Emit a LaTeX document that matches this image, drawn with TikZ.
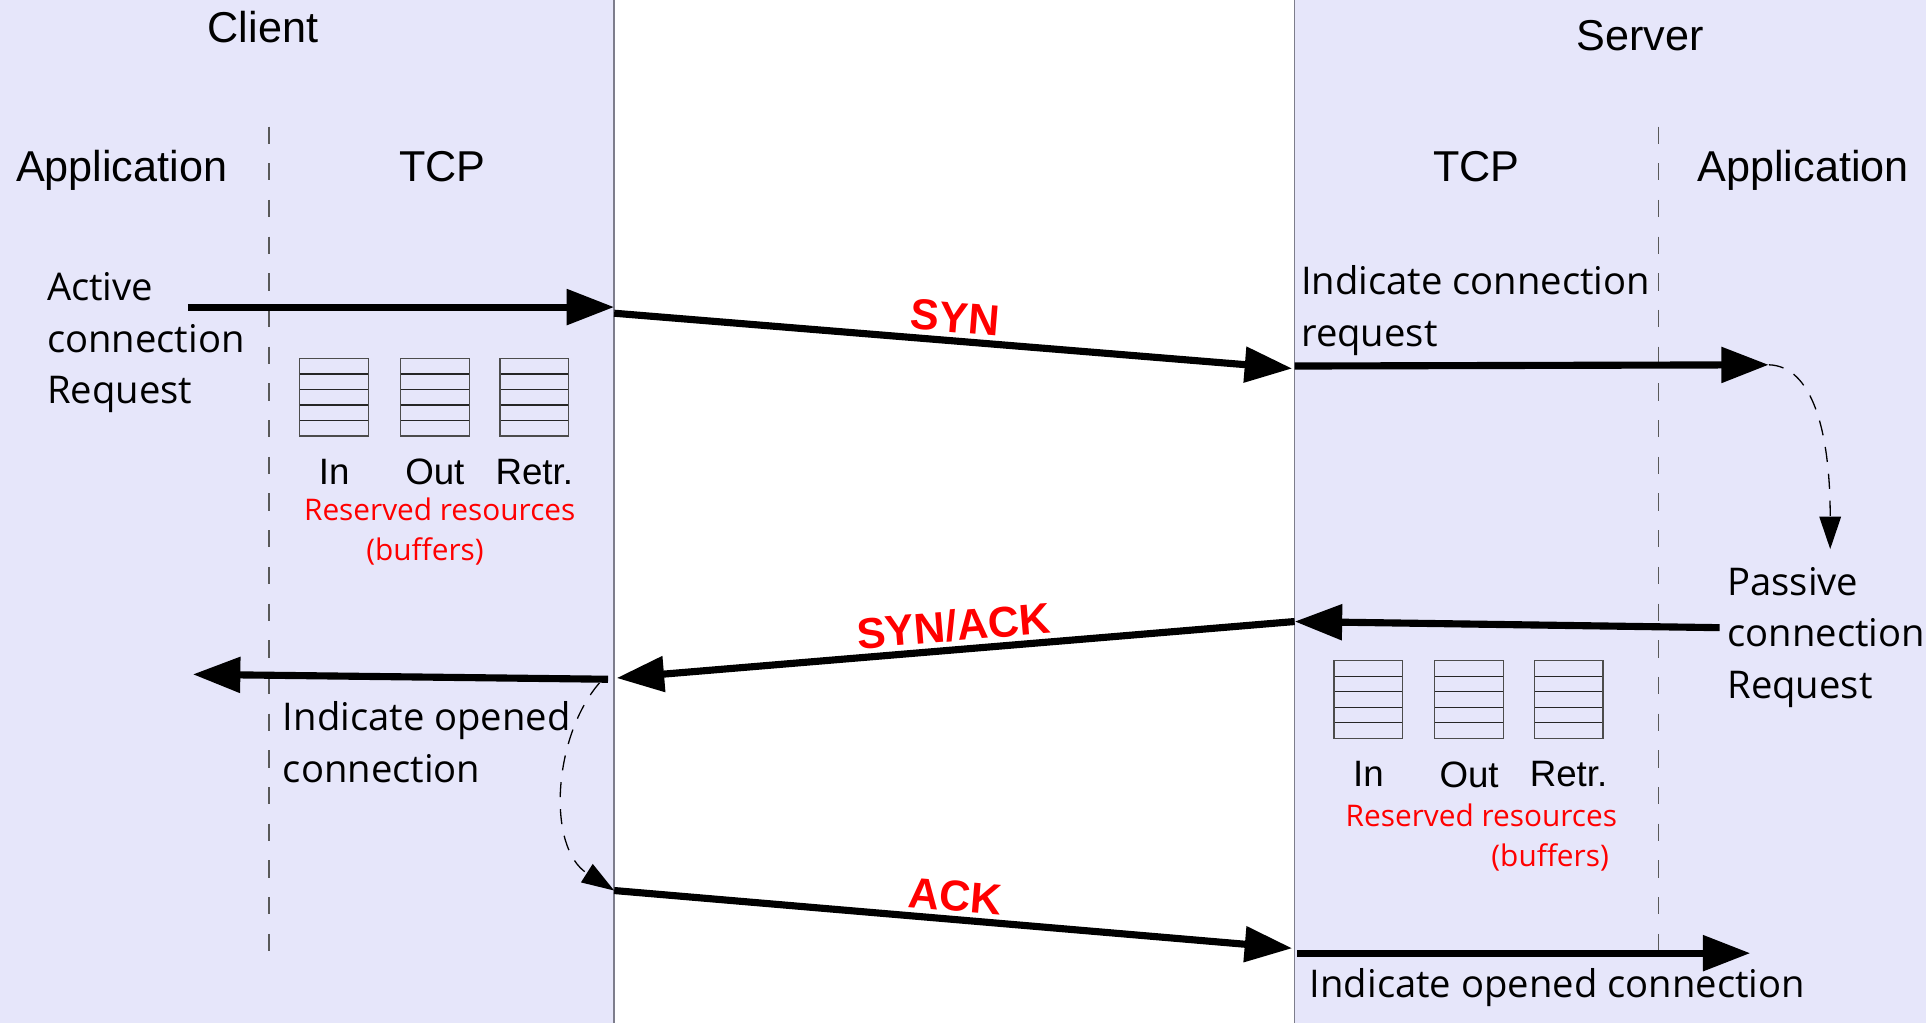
\documentclass[tikz,border=0pt]{standalone}
\usepackage{fontspec}
\setmainfont{Open Sans}
\setsansfont{Liberation Sans}
\usetikzlibrary{positioning,arrows.meta,calc}
\definecolor{panelfill}{RGB}{230,230,250}
\definecolor{panelline}{RGB}{125,125,140}

\begin{document}
\begin{tikzpicture}[
  x=0.2mm, y=-0.2mm,
  node distance=3.6mm,
  head/.style={font=\sffamily\fontsize{20}{24}\selectfont, inner sep=0pt, anchor=base},
  note/.style={font=\fontsize{17.7}{24}\selectfont, align=left, inner sep=0pt, anchor=west},
  res/.style={font=\fontsize{13.8}{19}\selectfont, text=red, inner sep=0pt},
  buf/.style={draw=black!70, line width=0.6pt, minimum width=11.2mm, minimum height=12.6mm, inner sep=0pt,
    path picture={\foreach \k in {1,...,4}
      \draw[black!85, line width=0.6pt]
        ($(path picture bounding box.north west)!\k/5!(path picture bounding box.south west)$) --
        ($(path picture bounding box.north east)!\k/5!(path picture bounding box.south east)$);}},
  buftag/.style={font=\sffamily\fontsize{17}{20}\selectfont, inner sep=0pt, below=of #1},
  msg/.style={-{Triangle[length=22pt,width=16pt]}, line width=3.3pt},
  pkt/.style={font=\sffamily\bfseries\fontsize{20}{24}\selectfont, text=red, sloped, above, inner sep=2pt},
  hint/.style={-{Triangle[length=15pt,width=10pt]}, dash pattern=on 7pt off 5.5pt, line width=0.6pt},
  layer/.style={draw=black!65, line width=0.6pt, dash pattern=on 8pt off 9pt}
]
\useasboundingbox (0,0) rectangle (1568,833);
\fill[panelfill] (0,0) rectangle (500,833);
\fill[panelfill] (1054,0) rectangle (1568,833);
\draw[panelline, line width=0.7pt] (500,0) -- (500,833);
\draw[panelline, line width=0.7pt] (1054,0) -- (1054,833);
\draw[layer] (219,103) -- (219,778);
\draw[layer] (1350,103) -- (1350,775);

\node[head] (client) at (214,35) {Client};
\node[head] (server) at (1335,41) {Server};
\node[head] (capp) at (99,148) {Application};
\node[head] (ctcp) at (360,148) {TCP};
\node[head] (stcp) at (1202,148) {TCP};
\node[head] (sapp) at (1468,148) {Application};

\node[note] (active) at (38,279) {Active\\connection\\Request};
\node[note] (indreq) at (1059,253) {Indicate connection\\request};
\node[note] (passive) at (1406,519) {Passive\\connection\\Request};
\node[note] (copen) at (230,604) {Indicate opened\\connection};
\node[note] (sopen) at (1066,804) {Indicate opened connection};

\node[buf] (cin) at (272,323.5) {};
\node[buf] (cout) at (354,323.5) {};
\node[buf] (cret) at (435,323.5) {};
\node[buftag=cin] (cinT) {In};
\node[buftag=cout] (coutT) {Out};
\node[buftag=cret] (cretT) {Retr.};
\node[res] (cres) at (358,415) {Reserved resources};
\node[res] (cbuf) at (346,449) {(buffers)};

\node[buf] (sin) at (1114,569.5) {};
\node[buf] (sout) at (1196,569.5) {};
\node[buf] (sret) at (1277,569.5) {};
\node[buftag=sin] (sinT) {In};
\node[buftag=sout] (soutT) {Out};
\node[buftag=sret] (sretT) {Retr.};
\node[res] (sres) at (1206,664) {Reserved resources};
\node[res] (sbuf) at (1262,698) {(buffers)};

\coordinate (actA) at (153,250);
\coordinate (actB) at (500,250);
\coordinate (synA) at (500,255);
\coordinate (synB) at (1052,300);
\coordinate (reqA) at (1054,298);
\coordinate (reqB) at (1440,297);
\coordinate (pasT) at (1490,447);
\coordinate (pasA) at (1400,511);
\coordinate (pasB) at (1054,506);
\coordinate (saB) at (502,552);
\coordinate (opnA) at (495,553);
\coordinate (opnB) at (157,549);
\coordinate (opnT) at (488,556);
\coordinate (ackA) at (500,725);
\coordinate (ackB) at (1052,772);
\coordinate (finA) at (1056,776);
\coordinate (finB) at (1425,776);

\draw[msg] (actA) -- (actB);
\draw[msg] (synA) -- node[pkt]{SYN} (synB);
\draw[msg] (reqA) -- (reqB);
\draw[hint] (reqB) .. controls (1475,298) and (1490,350) .. (pasT);
\draw[msg] (pasA) -- (pasB);
\draw[msg] (pasB) -- node[pkt]{SYN/ACK} (saB);
\draw[msg] (opnA) -- (opnB);
\draw[hint] (opnT) .. controls (450,600) and (445,690) .. (ackA);
\draw[msg] (ackA) -- node[pkt]{ACK} (ackB);
\draw[msg] (finA) -- (finB);
\end{tikzpicture}
\end{document}
